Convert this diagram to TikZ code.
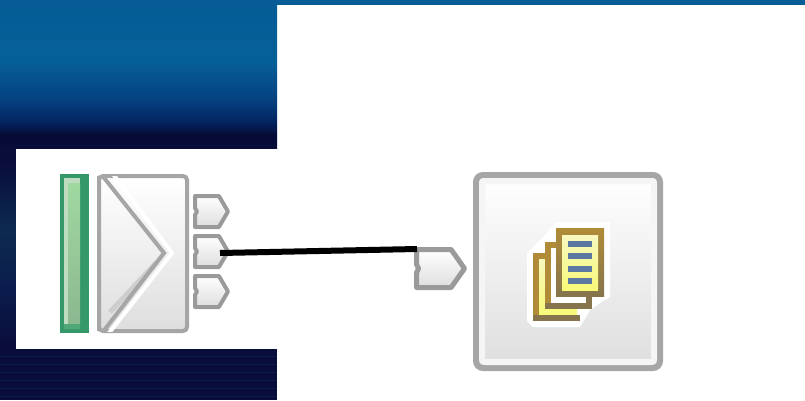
\documentclass[tikz,border=0pt]{standalone}
\definecolor{bgA}{HTML}{055C96}
\definecolor{bgB}{HTML}{066098}
\definecolor{bgC}{HTML}{054080}
\definecolor{bgD}{HTML}{03245E}
\definecolor{bgE}{HTML}{060A35}
\definecolor{navy}{HTML}{0A0C3A}
\definecolor{navyB}{HTML}{0B1C4C}
\definecolor{navyC}{HTML}{0C2A50}
\definecolor{edgeG}{HTML}{A6A6A6}
\definecolor{portG}{HTML}{9A9A9A}
\definecolor{greenE}{HTML}{359868}
\definecolor{greenM}{HTML}{50A878}
\definecolor{greenH}{HTML}{C0DCC0}
\definecolor{greenT}{HTML}{A0D8A0}
\definecolor{greenB}{HTML}{8CB890}
\definecolor{boxB}{HTML}{DEDEDE}
\definecolor{pageE}{HTML}{B08C38}
\definecolor{pageEb}{HTML}{85744C}
\definecolor{pageF}{HTML}{F8F878}
\definecolor{pageT}{HTML}{F8F8C0}
\definecolor{pageL}{HTML}{5C78A0}
\pgfdeclareverticalshading{bgshade}{100bp}{
 color(0bp)=(navy); color(25bp)=(navy); color(29.7bp)=(bgE); color(34bp)=(bgD); color(41.4bp)=(bgC); color(54.8bp)=(bgB); color(75bp)=(bgA); color(100bp)=(bgA)}
\pgfdeclareverticalshading{stripshade}{100bp}{
 color(0bp)=(navy); color(25bp)=(navy); color(40bp)=(navyB); color(55bp)=(navyC); color(72bp)=(navy); color(100bp)=(navy)}
\pgfdeclareverticalshading{pageedgeshade}{100bp}{
 color(0bp)=(pageEb); color(25bp)=(pageEb); color(75bp)=(pageE); color(100bp)=(pageE)}
\tikzset{
  cardbox/.style={draw=edgeG,line width=4pt,rounded corners=4pt,top color=white,bottom color=boxB,inner sep=0pt,outer sep=0pt},
  bigcard/.style={cardbox,line width=6pt,rounded corners=7pt},
  porticon/.style={draw=portG,line width=#1pt,line join=round,top color=white,bottom color=boxB},
  wire/.style={draw=black,line width=6pt},
  barbox/.style={fill=greenE,draw=none,inner sep=0pt,outer sep=0pt},
  pageline/.style={draw=pageL,line width=6pt}
}
% \portat{name}{left}{top}{width}{height}{line}: pentagon with a small notch on its left side
\newcommand{\portat}[6]{%
  \path[porticon=#6] (#2+#6/2,#3+#6/2) -- (#2+#4*0.7,#3+#6/2) -- (#2+#4-#6/2,#3+#5/2)
     -- (#2+#4*0.7,#3+#5-#6/2) -- (#2+#6/2,#3+#5-#6/2) -- (#2+#6/2,#3+#5*0.6)
     -- (#2+#6/2+2,#3+#5/2) -- (#2+#6/2,#3+#5*0.4) -- cycle;
  \coordinate (#1) at (#2,#3);
}
\begin{document}
\begin{tikzpicture}[x=1pt,y=-1pt]
\useasboundingbox (0,0) rectangle (805,400);
\fill[white] (0,0) rectangle (805,400);
% backdrop
\fill[bgA] (0,0) rectangle (805,5);
\shade[shading=bgshade] (0,0) rectangle (277,149);
\shade[shading=stripshade] (0,149) rectangle (16,349);
\fill[navy] (0,349) rectangle (277,400);
\fill[white] (16,149) rectangle (277,349);
\foreach \yy in {356,364,372,380,388,396}{\draw[navyB,line width=1pt] (0,\yy) -- (277,\yy);}
% green bar
\node[barbox,minimum width=29pt,minimum height=159pt] (bar) at (74.5,253.5) {};
\fill[greenH] (64,178) rectangle (68,329);
\shade[top color=greenT,bottom color=greenB] (68,183) rectangle (80,324);
\fill[greenH] (64,178) rectangle (80,183);
\fill[greenM] (64,324) rectangle (80,329);
% source block
\node[cardbox,minimum width=88pt,minimum height=155pt] (src) at (143,253.5) {};
\begin{scope}
\clip (97,176) rectangle (185,331);
\draw[edgeG,line width=4pt] (99,176) -- (99,331);
\draw[edgeG!55,line width=5pt] (157,262) -- (110,312);
\draw[white,line width=4pt] (113,174) -- (172,253) -- (109,333);
\draw[edgeG,line width=4pt] (101,174) -- (164,253) -- (102,333);
\end{scope}
% source ports
\portat{pa}{193}{194}{37}{35}{4}
\portat{pb}{193}{234}{37}{35}{4}
\portat{pc}{193}{274}{37}{35}{4}
\coordinate (wirestart) at ([shift={(27,19)}]pb);
% target port and block
\portat{pt}{414}{247}{53}{43}{5}
\coordinate (wireend) at ([shift={(3,2)}]pt);
\node[bigcard,minimum width=184pt,minimum height=193pt] (tgt) at (568,271.5) {};
\draw[draw=white!96!black,line width=6pt,rounded corners=3pt] (482,181) rectangle (654,362);
% page stack icon
\fill[white] (527,253) -- (533,247) -- (545,235) -- (556,222) -- (610,222) -- (610,297) -- (600,303) -- (590,310) -- (580,327) -- (533,327) -- (527,321) -- cycle;
\shade[top color=pageT,bottom color=pageF] (539,256) rectangle (577,315);
\draw[pageE,line width=6pt] (536,321) -- (536,256) -- (548,256);
\draw[pageEb,line width=6pt] (533,318) -- (580,318);
\fill[white] (550,247) rectangle (592,303);
\draw[pageE,line width=6pt] (548,306) -- (548,245) -- (560,245);
\draw[pageEb,line width=6pt] (545,306) -- (589,306) -- (589,296);
\shade[shading=pageedgeshade] (556,228) rectangle (604,296);
\shade[top color=pageT,bottom color=pageF] (562,235) rectangle (598,290);
\foreach \yy in {244,256,269,281}{\draw[pageline] (568,\yy) -- (592,\yy);}
% connector
\draw[wire] (wirestart) -- (wireend);
\end{tikzpicture}
\end{document}
